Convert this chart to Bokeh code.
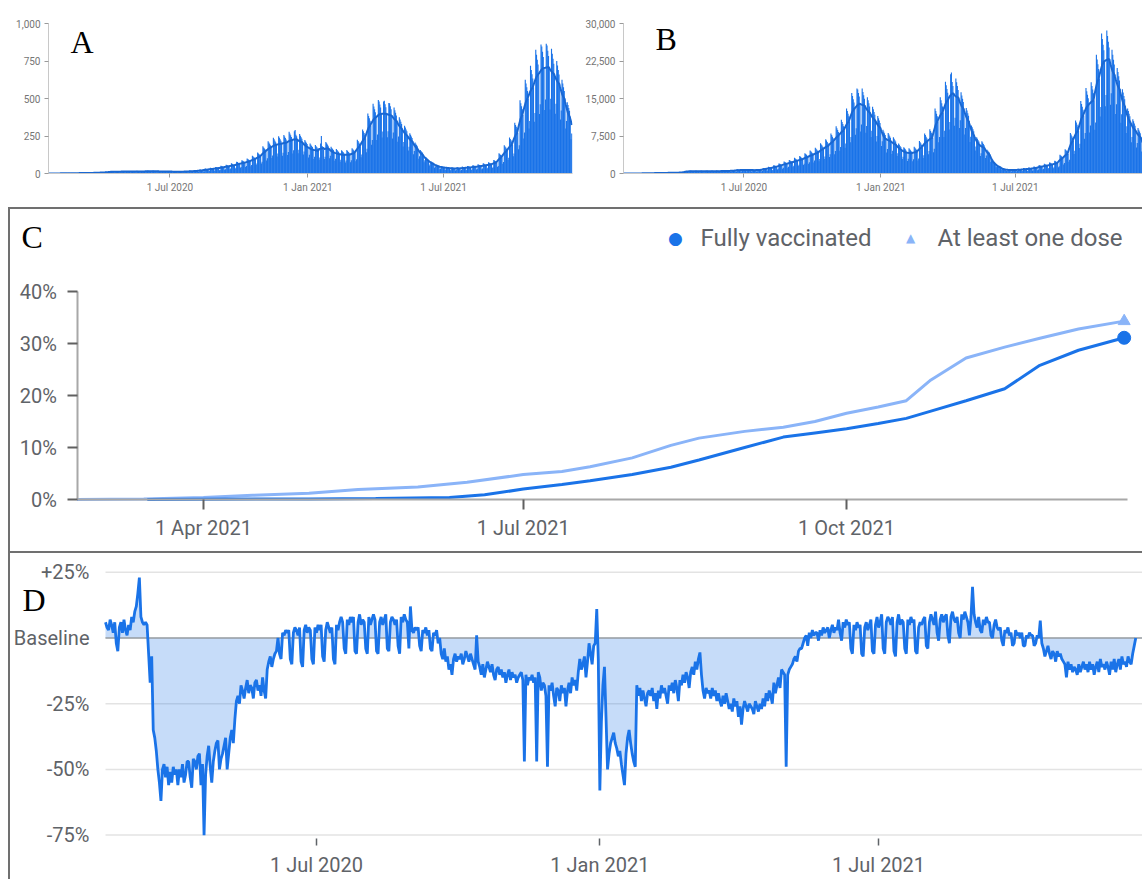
import pandas as pd
from bokeh.plotting import figure
from bokeh.layouts import column, row
from bokeh.models import (Range1d, FixedTicker, Label, NumeralTickFormatter,
                          PrintfTickFormatter, DatetimeTickFormatter, InlineStyleSheet)
from bokeh.embed import file_html
from bokeh.resources import INLINE

# ---------------------------------------------------------------- data
# Panel A: daily values (one row = one week, Monday..Sunday), from 2020-01-20
deaths_start = "2020-01-20"
deaths_daily = [
    0, 0, 0, 0, 0, 0, 0,
    0, 0, 0, 0, 0, 0, 0,
    1, 1, 1, 1, 1, 0, 1,
    1, 2, 1, 1, 1, 0, 1,
    2, 3, 2, 2, 2, 1, 2,
    3, 2, 3, 2, 2, 1, 1,
    4, 3, 4, 3, 3, 2, 2,
    4, 4, 3, 4, 3, 2, 2,
    5, 5, 4, 5, 4, 2, 3,
    6, 6, 6, 5, 5, 3, 4,
    8, 7, 7, 7, 6, 3, 4,
    11, 11, 10, 10, 9, 5, 7,
    15, 14, 14, 13, 12, 7, 9,
    15, 15, 14, 13, 12, 7, 8,
    16, 16, 15, 14, 13, 8, 9,
    16, 15, 15, 15, 13, 8, 9,
    17, 15, 15, 14, 13, 8, 9,
    18, 17, 16, 15, 14, 8, 10,
    17, 17, 16, 16, 14, 8, 10,
    19, 18, 17, 17, 15, 9, 10,
    19, 18, 17, 16, 15, 9, 11,
    18, 17, 16, 15, 14, 8, 10,
    17, 17, 16, 15, 14, 9, 10,
    16, 16, 15, 14, 13, 8, 9,
    15, 14, 14, 13, 12, 7, 9,
    15, 15, 14, 13, 12, 7, 8,
    16, 16, 15, 14, 13, 8, 9,
    19, 18, 17, 17, 15, 9, 10,
    21, 20, 20, 19, 17, 10, 12,
    26, 25, 24, 23, 21, 13, 15,
    33, 31, 30, 29, 26, 16, 18,
    38, 36, 35, 33, 30, 18, 21,
    44, 42, 40, 39, 35, 21, 24,
    51, 49, 47, 45, 41, 25, 29,
    59, 56, 54, 52, 47, 28, 33,
    68, 65, 62, 59, 54, 32, 38,
    79, 76, 72, 69, 63, 38, 44,
    89, 85, 82, 78, 71, 43, 50,
    100, 96, 92, 88, 80, 48, 56,
    119, 114, 109, 105, 95, 57, 66,
    140, 134, 129, 123, 112, 67, 78,
    181, 174, 167, 160, 145, 87, 102,
    215, 206, 198, 189, 172, 103, 120,
    238, 228, 219, 209, 190, 114, 133,
    248, 238, 228, 218, 198, 119, 139,
    256, 246, 236, 226, 205, 123, 143,
    278, 266, 255, 244, 222, 133, 155,
    281, 290, 259, 248, 225, 135, 158,
    263, 252, 242, 231, 210, 126, 147,
    223, 214, 205, 196, 178, 107, 125,
    200, 192, 184, 176, 160, 96, 112,
    190, 182, 175, 167, 152, 91, 106,
    200, 250, 184, 176, 160, 96, 112,
    210, 202, 193, 185, 168, 101, 118,
    178, 170, 163, 156, 142, 85, 99,
    163, 156, 150, 143, 130, 78, 91,
    155, 149, 143, 136, 124, 74, 87,
    156, 150, 144, 138, 125, 75, 88,
    169, 162, 155, 149, 135, 81, 95,
    225, 216, 207, 198, 180, 108, 126,
    294, 282, 270, 259, 235, 141, 165,
    400, 384, 368, 352, 320, 192, 224,
    465, 446, 428, 409, 372, 223, 260,
    490, 480, 460, 440, 400, 240, 280,
    480, 485, 462, 442, 402, 241, 281,
    470, 468, 449, 429, 390, 234, 273,
    440, 422, 405, 387, 352, 211, 246,
    375, 360, 345, 330, 300, 180, 210,
    319, 306, 293, 281, 255, 153, 179,
    269, 258, 247, 237, 215, 129, 150,
    206, 198, 190, 182, 165, 99, 115,
    156, 150, 144, 138, 125, 75, 88,
    110, 106, 101, 97, 88, 53, 62,
    81, 78, 75, 72, 65, 39, 46,
    60, 58, 55, 53, 48, 29, 34,
    50, 48, 46, 44, 40, 24, 28,
    45, 43, 41, 40, 36, 22, 25,
    41, 40, 38, 36, 33, 20, 23,
    43, 41, 39, 37, 34, 20, 24,
    46, 44, 43, 41, 37, 22, 26,
    50, 48, 46, 44, 40, 24, 28,
    55, 53, 51, 48, 44, 26, 31,
    61, 59, 56, 54, 49, 29, 34,
    68, 65, 62, 59, 54, 32, 38,
    75, 72, 69, 66, 60, 36, 42,
    90, 86, 83, 79, 72, 43, 50,
    135, 130, 124, 119, 108, 65, 76,
    188, 180, 173, 165, 150, 90, 105,
    240, 230, 221, 211, 192, 115, 134,
    338, 324, 311, 297, 270, 162, 189,
    488, 468, 449, 429, 390, 234, 273,
    625, 600, 575, 550, 500, 300, 350,
    719, 690, 661, 633, 575, 345, 403,
    825, 792, 759, 726, 660, 396, 462,
    860, 846, 811, 776, 705, 423, 494,
    865, 854, 819, 783, 712, 427, 498,
    831, 798, 765, 732, 665, 399, 465,
    750, 720, 690, 660, 600, 360, 420,
    625, 600, 575, 550, 500, 300, 350,
    475, 456, 437, 418, 380, 228, 266,
]

# Panel B: daily values (one row = one week), from 2020-01-20
cases_start = "2020-01-20"
cases_daily = [
    0, 0, 0, 0, 0, 0, 0,
    0, 0, 0, 0, 0, 0, 0,
    12, 12, 11, 11, 10, 6, 7,
    25, 24, 23, 22, 20, 12, 14,
    50, 48, 46, 44, 40, 24, 28,
    75, 72, 69, 66, 60, 36, 42,
    100, 96, 92, 88, 80, 48, 56,
    125, 120, 115, 110, 100, 60, 70,
    150, 144, 138, 132, 120, 72, 84,
    175, 168, 161, 154, 140, 84, 98,
    200, 192, 184, 176, 160, 96, 112,
    250, 240, 230, 220, 200, 120, 140,
    525, 504, 483, 462, 420, 252, 294,
    550, 528, 506, 484, 440, 264, 308,
    563, 540, 518, 495, 450, 270, 315,
    563, 540, 518, 495, 450, 270, 315,
    575, 552, 529, 506, 460, 276, 322,
    575, 552, 529, 506, 460, 276, 322,
    588, 564, 541, 517, 470, 282, 329,
    600, 576, 552, 528, 480, 288, 336,
    625, 600, 575, 550, 500, 300, 350,
    725, 696, 667, 638, 580, 348, 406,
    838, 804, 771, 737, 670, 402, 469,
    875, 840, 805, 770, 700, 420, 490,
    863, 828, 794, 759, 690, 414, 483,
    838, 804, 771, 737, 670, 402, 469,
    875, 840, 805, 770, 700, 420, 490,
    1125, 1080, 1035, 990, 900, 540, 630,
    1350, 1296, 1242, 1188, 1080, 648, 756,
    1663, 1596, 1530, 1463, 1330, 798, 931,
    2013, 1932, 1852, 1771, 1610, 966, 1127,
    2413, 2316, 2220, 2123, 1930, 1158, 1351,
    2725, 2616, 2507, 2398, 2180, 1308, 1526,
    3150, 3024, 2898, 2772, 2520, 1512, 1764,
    3500, 3360, 3220, 3080, 2800, 1680, 1960,
    4050, 3888, 3726, 3564, 3240, 1944, 2268,
    4625, 4440, 4255, 4070, 3700, 2220, 2590,
    5150, 4944, 4738, 4532, 4120, 2472, 2884,
    6063, 5820, 5578, 5335, 4850, 2910, 3395,
    6875, 6600, 6325, 6050, 5500, 3300, 3850,
    8000, 7680, 7360, 7040, 6400, 3840, 4480,
    9438, 9060, 8683, 8305, 7550, 4530, 5285,
    10750, 10320, 9890, 9460, 8600, 5160, 6020,
    13000, 12480, 11960, 11440, 10400, 6240, 7280,
    16125, 15480, 14835, 14190, 12900, 7740, 9030,
    17000, 16800, 16100, 15400, 14000, 8400, 9800,
    17000, 16320, 15640, 14960, 13600, 8160, 9520,
    15250, 14640, 14030, 13420, 12200, 7320, 8540,
    13375, 12840, 12305, 11770, 10700, 6420, 7490,
    11500, 11040, 10580, 10120, 9200, 5520, 6440,
    8750, 8400, 8050, 7700, 7000, 4200, 4900,
    8125, 7800, 7475, 7150, 6500, 3900, 4550,
    7250, 6960, 6670, 6380, 5800, 3480, 4060,
    6000, 5760, 5520, 5280, 4800, 2880, 3360,
    5250, 5040, 4830, 4620, 4200, 2520, 2940,
    5063, 4860, 4658, 4455, 4050, 2430, 2835,
    5375, 5160, 4945, 4730, 4300, 2580, 3010,
    6500, 6240, 5980, 5720, 5200, 3120, 3640,
    8000, 7680, 7360, 7040, 6400, 3840, 4480,
    8875, 8520, 8165, 7810, 7100, 4260, 4970,
    13000, 12480, 11960, 11440, 10400, 6240, 7280,
    15250, 14640, 14030, 13420, 12200, 7320, 8540,
    18375, 17640, 16905, 16170, 14700, 8820, 10290,
    19875, 20200, 18285, 17490, 15900, 9540, 11130,
    19000, 18240, 17480, 16720, 15200, 9120, 10640,
    16250, 15600, 14950, 14300, 13000, 7800, 9100,
    13125, 12600, 12075, 11550, 10500, 6300, 7350,
    9625, 9240, 8855, 8470, 7700, 4620, 5390,
    7250, 6960, 6670, 6380, 5800, 3480, 4060,
    6438, 6180, 5923, 5665, 5150, 3090, 3605,
    4750, 4560, 4370, 4180, 3800, 2280, 2660,
    2563, 2460, 2358, 2255, 2050, 1230, 1435,
    1625, 1560, 1495, 1430, 1300, 780, 910,
    1000, 960, 920, 880, 800, 480, 560,
    875, 840, 805, 770, 700, 420, 490,
    850, 816, 782, 748, 680, 408, 476,
    963, 924, 886, 847, 770, 462, 539,
    1088, 1044, 1001, 957, 870, 522, 609,
    1200, 1152, 1104, 1056, 960, 576, 672,
    1400, 1344, 1288, 1232, 1120, 672, 784,
    1700, 1632, 1564, 1496, 1360, 816, 952,
    1938, 1860, 1783, 1705, 1550, 930, 1085,
    2225, 2136, 2047, 1958, 1780, 1068, 1246,
    2563, 2460, 2358, 2255, 2050, 1230, 1435,
    3750, 3600, 3450, 3300, 3000, 1800, 2100,
    4875, 4680, 4485, 4290, 3900, 2340, 2730,
    8125, 7800, 7475, 7150, 6500, 3900, 4550,
    10625, 10200, 9775, 9350, 8500, 5100, 5950,
    14500, 13920, 13340, 12760, 11600, 6960, 8120,
    17125, 16440, 15755, 15070, 13700, 8220, 9590,
    18250, 17520, 16790, 16060, 14600, 8760, 10220,
    23750, 22800, 21850, 20900, 19000, 11400, 13300,
    28000, 26880, 25760, 24640, 22400, 13440, 15680,
    28600, 27480, 26335, 25190, 22900, 13740, 16030,
    24750, 23760, 22770, 21780, 19800, 11880, 13860,
    21125, 20280, 19435, 18590, 16900, 10140, 11830,
    16875, 16200, 15525, 14850, 13500, 8100, 9450,
    13000, 12480, 11960, 11440, 10400, 6240, 7280,
    10875, 10440, 10005, 9570, 8700, 5220, 6090,
    9125, 8760, 8395, 8030, 7300, 4380, 5110,
]

# Panel C: vaccination coverage (%)
one_dose_dates = ["2021-02-24", "2021-03-15", "2021-04-01", "2021-04-15", "2021-05-01",
                  "2021-05-15", "2021-06-01", "2021-06-15", "2021-07-01", "2021-07-12",
                  "2021-07-20", "2021-08-01", "2021-08-12", "2021-08-20", "2021-09-02",
                  "2021-09-13", "2021-09-22", "2021-10-01", "2021-10-10", "2021-10-18",
                  "2021-10-25", "2021-11-04", "2021-11-15", "2021-11-25", "2021-12-06",
                  "2021-12-19"]
one_dose_pct = [0.0, 0.1, 0.4, 0.8, 1.2, 1.9, 2.4, 3.3, 4.8, 5.4, 6.3, 8.0, 10.4, 11.8,
                13.1, 13.9, 15.0, 16.6, 17.8, 19.0, 23.0, 27.2, 29.3, 31.0, 32.8, 34.3]
fully_dates = ["2021-03-16", "2021-04-01", "2021-05-01", "2021-05-20", "2021-06-10",
               "2021-06-20", "2021-07-01", "2021-07-12", "2021-07-20", "2021-08-01",
               "2021-08-12", "2021-08-20", "2021-09-02", "2021-09-13", "2021-09-22",
               "2021-10-01", "2021-10-10", "2021-10-18", "2021-10-25", "2021-11-04",
               "2021-11-15", "2021-11-25", "2021-12-06", "2021-12-19"]
fully_pct = [0.0, 0.05, 0.1, 0.2, 0.4, 0.9, 2.0, 2.9, 3.6, 4.8, 6.2, 7.6, 10.0, 12.0,
             12.8, 13.6, 14.6, 15.6, 17.0, 19.0, 21.3, 25.8, 28.7, 31.1]

# Panel D: mobility change vs baseline (%), daily from 2020-02-15 (rows = weeks)
mobility_start = "2020-02-15"
mobility_pct = [
    6, 4, 3, 7, 5, 2, 6,
    -2, -5, 4, 6, 2, 7, 3,
    1, 5, 3, 8, 6, 10, 12,
    17, 23, 8, 6, 5, 6, 5,
    -6, -17, -7, -35, -38, -43, -50,
    -55, -62, -50, -48, -53, -49, -56,
    -51, -55, -49, -52, -50, -56, -50,
    -53, -48, -55, -52, -47, -47, -53,
    -57, -46, -47, -50, -45, -44, -56,
    -48, -75, -52, -45, -41, -49, -55,
    -47, -43, -40, -39, -50, -46, -44,
    -41, -38, -50, -44, -38, -35, -40,
    -31, -24, -22, -25, -18, -20, -23,
    -19, -16, -21, -18, -19, -23, -17,
    -16, -20, -18, -22, -15, -20, -23,
    -12, -9, -7, -11, -8, -6, -5,
    0, -6, -8, 2, 1, 3, 2,
    3, -8, -10, 2, 4, 3, 1,
    4, -9, -11, 3, 5, 2, 4,
    3, -8, -10, 4, 2, 5, 3,
    5, -7, -9, 3, 6, 4, 2,
    4, -8, -10, 5, 3, 6, 8,
    6, -4, -6, 7, 5, 8, 6,
    8, -5, -6, 6, 9, 5, 7,
    6, -4, -6, 8, 5, 7, 9,
    7, -5, -6, 6, 8, 5, 7,
    9, -4, -5, 6, 8, 7, 5,
    7, -3, -6, 8, 6, 9, 7,
    6, -4, 12, 3, 2, 4, 3,
    4, -3, -5, 3, 2, 4, 1,
    3, -4, -5, 2, 1, 3, -2,
    0, -6, -8, -4, -9, -7, -12,
    -10, -14, -8, -6, -9, -7, -8,
    -6, -10, -8, -5, -7, -9, -6,
    -8, -10, -12, 1, -9, -11, -14,
    -10, -15, -12, -9, -11, -13, -10,
    -14, -16, -12, -11, -14, -12, -15,
    -13, -17, -14, -12, -16, -13, -15,
    -14, -17, -15, -14, -13, -16, -47,
    -14, -18, -15, -16, -14, -17, -15,
    -47, -13, -15, -20, -17, -18, -22,
    -49, -18, -20, -17, -22, -26, -19,
    -20, -24, -18, -21, -19, -26, -20,
    -17, -21, -15, -18, -16, -20, -13,
    -8, -12, -10, -7, -15, -9, -2,
    -6, -10, -3, -2, 11, -8, -58,
    -32, -18, -11, -30, -50, -44, -40,
    -38, -36, -40, -42, -45, -43, -48,
    -52, -56, -44, -38, -35, -40, -44,
    -47, -49, -18, -22, -19, -24, -20,
    -23, -26, -21, -20, -22, -19, -24,
    -21, -27, -20, -23, -18, -21, -19,
    -22, -25, -18, -20, -17, -21, -16,
    -19, -24, -16, -18, -14, -17, -13,
    -15, -19, -13, -11, -14, -9, -12,
    -8, -5.5, -14, -20, -23, -19, -21,
    -20, -23, -19, -22, -20, -24, -21,
    -24, -26, -22, -25, -21, -24, -27,
    -25, -28, -23, -26, -24, -30, -26,
    -33, -27, -24, -26, -28, -25, -26,
    -27, -29, -24, -26, -28, -25, -27,
    -23, -26, -21, -24, -20, -22, -25,
    -17, -21, -18, -15, -19, -12, -13,
    -14, -49, -14, -12, -11, -10, -8,
    -7, -9, -5, -4, -4, -2, 0,
    1, -3, 2, 0, 3, 1, 2,
    2, -1, 3, 1, 4, 2, 3,
    4, 0, 3, 5, 2, 4, 3,
    7, 2, -1, 6, 4, 7, 5,
    6, -4, -6, 5, 3, 6, 4,
    5, -6, -7, 4, 6, 3, 5,
    7, -5, -6, 5, 8, 4, 6,
    9, -4, -6, 6, 8, 7, 5,
    8, -5, -7, 6, 9, 5, 7,
    6, -4, -6, 7, 5, 8, 6,
    7, -5, -6, 4, 6, 5, 7,
    8, -3, -4, 6, 9, 7, 5,
    10, 2, -1, 7, 9, 6, 8,
    9, 1, -2, 8, 10, 7, 6,
    8, 2, 0, 9, 7, 10, 8,
    6, 1, 8, 19.5, 9, 6, 4,
    8, 3, 2, 7, 5, 8, 6,
    6, 1, 0, 5, 7, 4, 3,
    4, -1, -3, 3, 2, 4, 1,
    2, -3, -2, 3, 1, 2, 0,
    2, -3, -3, 1, 0, 2, 1,
    1, -3, -2, 1, 0, 6.6, -2,
    -4, -7, -5, -3, -6, -8, -5,
    -6, -9, -5, -7, -6, -8, -9,
    -10, -15, -9, -12, -10, -13, -11,
    -12, -14, -10, -13, -11, -9, -12,
    -10, -13, -9, -12, -10, -14, -11,
    -9, -13, -8, -11, -10, -12, -9,
    -11, -14, -9, -12, -8, -13, -10,
    -8, -12, -7, -10, -9, -11, -7,
    -9, -10, -6, -3, 0,
]

# ticks and labels
ab_date_ticks = ["2020-07-01", "2021-01-01", "2021-07-01"]
c_date_ticks = ["2021-04-01", "2021-07-01", "2021-10-01"]
d_date_ticks = ["2020-07-01", "2021-01-01", "2021-07-01"]
a_y_ticks = [0, 250, 500, 750, 1000]
b_y_ticks = [0, 7500, 15000, 22500, 30000]
c_y_ticks = [0, 10, 20, 30, 40]
d_y_ticks = [-75, -50, -25, 0, 25]
d_y_labels = ["-75%", "-50%", "-25%", "Baseline", "+25%"]
legend_labels = ["Fully vaccinated", "At least one dose"]
panel_letters = ["A", "B", "C", "D"]

# ---------------------------------------------------------------- style
DAY = 86400000.0
FONT = "Roboto"
SERIF = "Liberation Serif"
TXT = "#5f6368"
BLUE = "#1a73e8"
LINE_DARK = "#1967d2"
LIGHT = "#8ab4f8"
LETTER_SIZE = "32px"


def ms(d):
    return pd.Timestamp(d).value / 1e6


def date_fmt():
    f = "%-d %b %Y"
    return DatetimeTickFormatter(days=f, months=f, years=f)


def no_borders():
    return dict(min_border_left=0, min_border_right=0, min_border_top=0, min_border_bottom=0)


def small_panel(width, left, right, top, bottom, x0, x1, ymax, yticks,
                daily, start, letter, letter_dx_px, letter_cy_px):
    p = figure(width=width, height=205, x_axis_type="datetime",
               x_range=Range1d(ms(x0), ms(x1)), y_range=Range1d(0, ymax),
               output_backend="svg", toolbar_location=None,
               min_border_left=left, min_border_right=right,
               min_border_top=top, min_border_bottom=bottom)
    dates = pd.date_range(start, periods=len(daily), freq="D")
    avg = pd.Series(daily, dtype=float).rolling(7, center=True, min_periods=1).mean()
    p.vbar(x=dates, top=daily, width=1.5 * DAY, fill_color=BLUE, line_color=None)
    p.line(dates, avg.values, color=LINE_DARK, line_width=2)
    p.grid.visible = False
    p.outline_line_color = None
    p.xaxis.ticker = FixedTicker(ticks=[ms(d) for d in ab_date_ticks])
    p.xaxis.formatter = date_fmt()
    p.yaxis.ticker = FixedTicker(ticks=yticks)
    p.yaxis.formatter = NumeralTickFormatter(format="0,0")
    for ax in (p.xaxis[0], p.yaxis[0]):
        ax.axis_line_color = "#c8c8c8"
        ax.major_tick_line_color = "#9a9a9a"
        ax.major_tick_out = 4
        ax.major_tick_in = 0
        ax.minor_tick_line_color = None
        ax.major_label_text_font = FONT
        ax.major_label_text_font_size = "10px"
        ax.major_label_text_color = "#757575"
        ax.major_label_standoff = 4
    frame_w = width - left - right
    frame_h = 205 - top - bottom
    px_day = frame_w / ((ms(x1) - ms(x0)) / DAY)
    p.add_layout(Label(x=ms(x0) + letter_dx_px / px_day * DAY,
                       y=ymax * (frame_h - (letter_cy_px - top)) / frame_h,
                       text=letter, text_font=SERIF, text_font_size=LETTER_SIZE,
                       text_color="black", text_baseline="middle"))
    return p


pA = small_panel(575, 48, 3, 22, 32, "2020-01-21", "2021-12-20", 1000, a_y_ticks,
                 deaths_daily, deaths_start, panel_letters[0], 22, 40.5)
pB = small_panel(567, 48, 0, 23, 31, "2020-01-21", "2021-12-19", 30000, b_y_ticks,
                 cases_daily, cases_start, panel_letters[1], 32, 39)

# ---------------------------------------------------------------- panel C
# the plot frame covers the whole panel; axes are pinned with fixed_location
C_W, C_H = 1142, 348
C_X0_PX, C_PX_DAY = 76.5, 3.514      # first date sits at x=76.5 px
C_Y0_PX, C_PX_PCT = 294.0, 5.2       # 0 % sits 294 px below the panel top
c_origin = ms(one_dose_dates[0])


def c_x(px):
    return c_origin + (px - C_X0_PX) / C_PX_DAY * DAY


def c_y(py):
    return (C_Y0_PX - py) / C_PX_PCT


pC = figure(width=C_W, height=C_H, x_axis_type="datetime",
            x_range=Range1d(c_x(0), c_x(C_W)), y_range=Range1d(c_y(C_H), c_y(0)),
            output_backend="svg", toolbar_location=None, **no_borders())
od = pd.to_datetime(one_dose_dates)
fd = pd.to_datetime(fully_dates)
pC.line(od, one_dose_pct, color=LIGHT, line_width=3)
pC.line(fd, fully_pct, color=BLUE, line_width=3)
pC.scatter([od[-1]], [one_dose_pct[-1]], marker="triangle", size=12, color=LIGHT)
pC.scatter([fd[-1]], [fully_pct[-1]], marker="circle", size=13, color=BLUE)
pC.grid.visible = False
pC.outline_line_color = None
pC.xaxis.ticker = FixedTicker(ticks=[ms(d) for d in c_date_ticks])
pC.xaxis.formatter = date_fmt()
pC.xaxis.fixed_location = 0
pC.xaxis.bounds = (c_origin, ms("2021-12-20"))
pC.yaxis.ticker = FixedTicker(ticks=c_y_ticks)
pC.yaxis.formatter = PrintfTickFormatter(format="%d%%")
pC.yaxis.fixed_location = c_origin
pC.yaxis.bounds = (0, 40)
for ax in (pC.xaxis[0], pC.yaxis[0]):
    ax.axis_line_color = "#a8a8a8"
    ax.axis_line_width = 2
    ax.major_tick_line_color = "#606060"
    ax.major_tick_line_width = 2
    ax.major_tick_out = 10
    ax.major_tick_in = 0
    ax.minor_tick_line_color = None
    ax.major_label_text_font = FONT
    ax.major_label_text_font_size = "20px"
    ax.major_label_text_color = TXT
pC.xaxis.major_label_standoff = 6
pC.yaxis.major_label_standoff = 10

legend_y = c_y(32)
pC.add_layout(Label(x=c_x(675), y=legend_y, text="\u25CF", text_font="DejaVu Sans",
                    text_font_size="17px", text_color=BLUE, text_align="center",
                    text_baseline="middle"))
pC.add_layout(Label(x=c_x(700), y=legend_y, text=legend_labels[0], text_font=FONT,
                    text_font_size="24px", text_color=TXT, text_baseline="middle"))
pC.add_layout(Label(x=c_x(910), y=legend_y, text="\u25B2", text_font="DejaVu Sans",
                    text_font_size="12px", text_color=LIGHT, text_align="center",
                    text_baseline="middle"))
pC.add_layout(Label(x=c_x(937), y=legend_y, text=legend_labels[1], text_font=FONT,
                    text_font_size="24px", text_color=TXT, text_baseline="middle"))
pC.add_layout(Label(x=c_x(21), y=c_y(31), text=panel_letters[2],
                    text_font=SERIF, text_font_size=LETTER_SIZE, text_color="black",
                    text_baseline="middle"))
pC.stylesheets = [InlineStyleSheet(css=":host::after{content:'';position:absolute;"
                                       "left:8px;top:2px;right:0px;bottom:0px;"
                                       "border:2px solid #707070;border-right:none;"
                                       "pointer-events:none;}")]

# ---------------------------------------------------------------- panel D
D_W, D_H = 1142, 326
D_X0_PX, D_PX_DAY = 105.0, 1.54       # first date sits at x=105 px
D_Y0_PX, D_PX_PCT = 84.5, 2.628       # baseline sits 84.5 px below the panel top
d_origin = ms(mobility_start)


def d_x(px):
    return d_origin + (px - D_X0_PX) / D_PX_DAY * DAY


def d_y(py):
    return (D_Y0_PX - py) / D_PX_PCT


pD = figure(width=D_W, height=D_H, x_axis_type="datetime",
            x_range=Range1d(d_x(0), d_x(D_W)), y_range=Range1d(d_y(D_H), d_y(0)),
            output_backend="svg", toolbar_location=None, **no_borders())
md = pd.date_range(mobility_start, periods=len(mobility_pct), freq="D")
grid_end = d_x(D_W)
pD.segment(x0=d_origin, y0=d_y_ticks, x1=grid_end, y1=d_y_ticks,
           line_color="#e3e3e3", line_width=1.5, level="underlay")
pD.varea(x=md, y1=0, y2=mobility_pct, fill_color=BLUE, fill_alpha=0.25)
pD.segment(x0=d_origin, y0=0, x1=grid_end, y1=0, line_color="#9aa0a6", line_width=1.5)
pD.line(md, mobility_pct, color=BLUE, line_width=2.8)
pD.outline_line_color = None
pD.grid.visible = False
pD.yaxis.ticker = FixedTicker(ticks=d_y_ticks)
pD.yaxis.major_label_overrides = {t: s for t, s in zip(d_y_ticks, d_y_labels)}
pD.yaxis.fixed_location = d_origin
pD.yaxis.axis_line_color = None
pD.yaxis.major_tick_line_color = None
pD.yaxis.minor_tick_line_color = None
pD.yaxis.major_label_standoff = 10
pD.xaxis.ticker = FixedTicker(ticks=[ms(d) for d in d_date_ticks])
pD.xaxis.formatter = date_fmt()
pD.xaxis.fixed_location = d_y_ticks[0] - 3 / D_PX_PCT
pD.xaxis.axis_line_color = None
pD.xaxis.major_tick_line_color = "#5f6368"
pD.xaxis.major_tick_line_width = 1.5
pD.xaxis.major_tick_out = 7
pD.xaxis.major_tick_in = 0
pD.xaxis.minor_tick_line_color = None
pD.xaxis.major_label_standoff = 8
for ax in (pD.xaxis[0], pD.yaxis[0]):
    ax.major_label_text_font = FONT
    ax.major_label_text_font_size = "20px"
    ax.major_label_text_color = TXT

pD.add_layout(Label(x=d_x(22), y=d_y(46), text=panel_letters[3], text_font=SERIF,
                    text_font_size=LETTER_SIZE, text_color="black", text_baseline="middle"))
pD.stylesheets = [InlineStyleSheet(css=":host::after{content:'';position:absolute;"
                                       "left:8px;top:0px;right:0px;bottom:0px;"
                                       "border-left:2px solid #707070;"
                                       "pointer-events:none;}")]

layout = column(row(pA, pB), pC, pD)
open("out.html", "w").write(file_html(layout, INLINE))
